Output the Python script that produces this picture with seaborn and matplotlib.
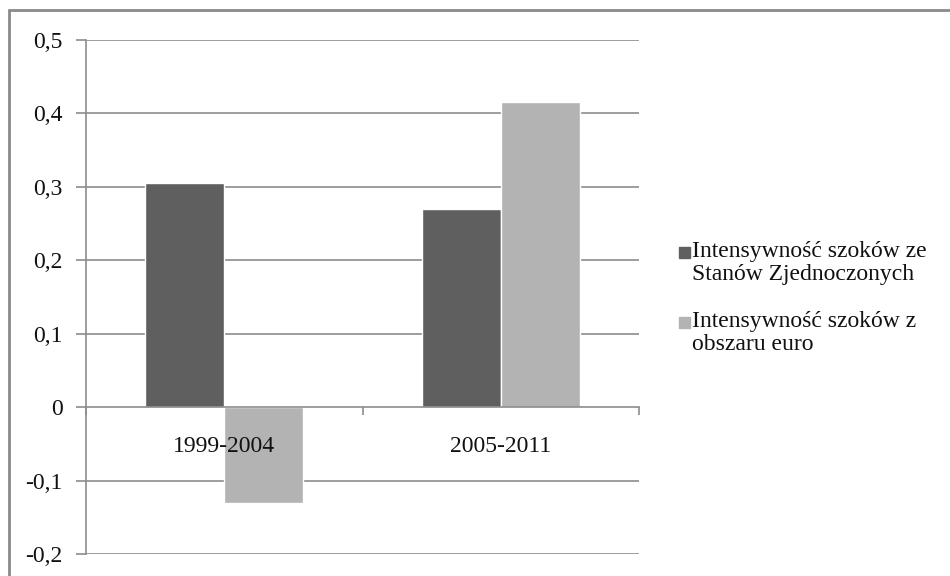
import matplotlib
matplotlib.use("Agg")
import matplotlib.pyplot as plt
import seaborn as sns
import pandas as pd
from matplotlib.patches import Rectangle
from matplotlib.lines import Line2D

periods = ["1999-2004", "2005-2011"]
series_names = [
    "Intensywność szoków ze\nStanów Zjednoczonych",
    "Intensywność szoków z\nobszaru euro",
]
us_shocks = [0.305, 0.270]
euro_shocks = [-0.131, 0.416]
y_ticks = [-0.2, -0.1, 0, 0.1, 0.2, 0.3, 0.4, 0.5]
y_tick_labels = ["-0,2", "-0,1", "0", "0,1", "0,2", "0,3", "0,4", "0,5"]
colors = ["#5f5f5f", "#b3b3b3"]

df = pd.DataFrame({
    "okres": periods * 2,
    "seria": [series_names[0]] * 2 + [series_names[1]] * 2,
    "wartosc": us_shocks + euro_shocks,
})

sns.set_theme(style="white")
plt.rcParams["font.family"] = ["Liberation Serif", "DejaVu Serif"]

fig = plt.figure(figsize=(9.5, 5.76), dpi=100)
ax = fig.add_axes([86 / 950, 1 - 554 / 576, (639 - 86) / 950, (554 - 40) / 576])

sns.barplot(data=df, x="okres", y="wartosc", hue="seria", order=periods,
            hue_order=series_names, palette=colors, saturation=1,
            width=0.57, ax=ax, legend=False)

grid_c = "#8c8c8c"
ax.set_ylim(-0.2, 0.5)
ax.set_xlim(-0.5, 1.5)
ax.set_yticks(y_ticks)
ax.set_yticklabels(y_tick_labels, fontsize=17)
for y in y_ticks:
    if y != 0:
        ax.axhline(y, color=grid_c, lw=1.2, zorder=0)
# axis labels drawn above the bars
ax.set_axisbelow(False)

for s in ["top", "right"]:
    ax.spines[s].set_visible(False)
ax.spines["left"].set_color(grid_c)
ax.spines["left"].set_linewidth(1.2)
ax.spines["bottom"].set_position(("data", 0))
ax.spines["bottom"].set_color(grid_c)
ax.spines["bottom"].set_linewidth(1.2)
ax.spines["bottom"].set_zorder(3)

ax.tick_params(axis="y", direction="out", length=7, width=1.2, color=grid_c,
               left=True, pad=10, labelcolor="#111111")
ax.set_xticks([0, 1])
ax.set_xticklabels(periods, fontsize=17, color="#111111")
ax.tick_params(axis="x", which="major", length=0, pad=21)
ax.set_xticks([-0.5, 0.5, 1.5], minor=True)
ax.tick_params(axis="x", which="minor", direction="out", length=6, width=1.2,
               color=grid_c, bottom=True)
ax.set_xlabel("")
ax.set_ylabel("")

# legend drawn in figure pixels
for i, (name, col) in enumerate(zip(series_names, colors)):
    ytop = 241 + i * 70
    fig.patches.append(Rectangle((679 / 950, 1 - (ytop + 17) / 576), 11 / 950, 11 / 576,
                                 transform=fig.transFigure, color=col))
    fig.text(692 / 950, 1 - ytop / 576, name, fontsize=17, va="top", ha="left",
             color="#111111", linespacing=1.12)

# outer frame
fig.add_artist(Line2D([9 / 950, 9 / 950], [0, 1 - 10 / 576], transform=fig.transFigure,
                      color="#8a8a8a", lw=2))
fig.add_artist(Line2D([9 / 950, 1], [1 - 10 / 576, 1 - 10 / 576], transform=fig.transFigure,
                      color="#8a8a8a", lw=2))

fig.savefig("out.png", dpi=100)
